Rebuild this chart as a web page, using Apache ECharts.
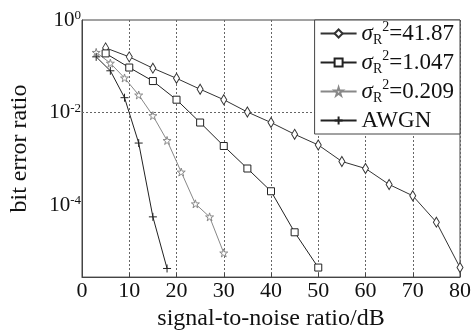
<!DOCTYPE html>
<html>
<head>
<meta charset="utf-8">
<script src="https://cdn.jsdelivr.net/npm/echarts@6/dist/echarts.min.js"></script>
<style>
  html, body { margin: 0; padding: 0; background: #fff; }
  #main { width: 475px; height: 336px; }
</style>
</head>
<body>
<div id="main"></div>
<script>
// data
var snrA = [5, 10, 15, 20, 25, 30, 35, 40, 45, 50, 55, 60, 65, 70, 75, 80];
var berA = [0.25, 0.16, 0.091, 0.055, 0.032, 0.019, 0.0103, 0.0061, 0.0034, 0.0020,
            0.00088, 0.00062, 0.00028, 0.00016, 0.000043, 0.0000045];

var snrB = [5, 10, 15, 20, 25, 30, 35, 40, 45, 50];
var berB = [0.19, 0.094, 0.048, 0.019, 0.0061, 0.0019, 0.00062, 0.00020, 0.000026, 0.0000045];

var snrC = [3, 6, 9, 12, 15, 18, 21, 24, 27, 30];
var berC = [0.20, 0.117, 0.056, 0.024, 0.0086, 0.0025, 0.00052, 0.000107, 0.000056, 0.0000093];

var snrD = [3, 6, 9, 12, 15, 18];
var berD = [0.16, 0.080, 0.021, 0.0022, 0.000056, 0.0000043];

var seriesNames = ['41.87', '1.047', '0.209', 'AWGN'];
var xTicks = [0, 80, 10];          // min, max, step
var yRange = [2.8e-6, 1];
var gridLinesY = [1e-2, 1e-4];

var serif = "'Liberation Serif', 'Times New Roman', serif";

function pairs(xs, ys) {
    return xs.map(function (x, i) { return [x, ys[i]]; });
}

var chartDom = document.getElementById('main');
var myChart = echarts.init(chartDom);

var starPath = 'path://M50,0L61,35L98,35L68,57L79,91L50,70L21,91L32,57L2,35L39,35Z';
var plusPath = 'path://M5,0L5,10M0,5L10,5';

function lineSeries(name, data, color, symbol, size) {
    return {
        name: name,
        type: 'line',
        data: data,
        symbol: symbol,
        symbolSize: size,
        showSymbol: true,
        lineStyle: { color: color, width: 1 },
        itemStyle: { color: '#fff', borderColor: color, borderWidth: 1 },
        z: 3
    };
}

var series = [
    lineSeries(seriesNames[0], pairs(snrA, berA), '#333', 'diamond', [6, 10]),
    lineSeries(seriesNames[1], pairs(snrB, berB), '#222', 'rect', 7),
    lineSeries(seriesNames[2], pairs(snrC, berC), '#888', starPath, 8),
    lineSeries(seriesNames[3], pairs(snrD, berD), '#222', plusPath, 8)
];

// horizontal dotted grid lines only at 1e-2 and 1e-4
series[0].markLine = {
    silent: true,
    symbol: 'none',
    label: { show: false },
    lineStyle: { color: '#666', type: [2, 2], width: 1 },
    data: gridLinesY.map(function (v) { return { yAxis: v }; }),
    z: 1
};

var option = {
    animation: false,
    backgroundColor: '#fff',
    grid: {
        left: 81, right: 15, top: 20, bottom: 51,
        show: true, borderColor: '#444', borderWidth: 1
    },
    legend: {
        orient: 'vertical',
        right: 15,
        top: 20,
        padding: [0, 6, 0, 5],
        itemGap: 2,
        itemWidth: 36,
        itemHeight: 10,
        backgroundColor: '#fff',
        borderColor: '#444',
        borderWidth: 1,
        borderRadius: 0,
        data: seriesNames,
        formatter: function (name) {
            if (name === 'AWGN') return '{n|AWGN}';
            return '{s|σ}{r|R}{p|2}{n|=' + name + '}';
        },
        textStyle: {
            fontFamily: serif,
            fontSize: 23,
            color: '#111',
            lineHeight: 27,
            rich: {
                s: { fontFamily: serif, fontSize: 23, fontStyle: 'italic', lineHeight: 27, color: '#111' },
                r: { fontFamily: serif, fontSize: 14, lineHeight: 27, verticalAlign: 'bottom', color: '#111' },
                p: { fontFamily: serif, fontSize: 14, lineHeight: 27, verticalAlign: 'top', color: '#111' },
                n: { fontFamily: serif, fontSize: 23, lineHeight: 27, color: '#111' }
            }
        }
    },
    xAxis: {
        type: 'value',
        min: xTicks[0],
        max: xTicks[1],
        interval: xTicks[2],
        name: 'signal-to-noise ratio/dB',
        nameLocation: 'middle',
        nameGap: 18,
        nameTextStyle: { fontFamily: serif, fontSize: 24, color: '#111' },
        axisLine: { lineStyle: { color: '#444', width: 1 } },
        axisTick: { inside: true, length: 4, lineStyle: { color: '#444' } },
        axisLabel: { fontFamily: serif, fontSize: 22, color: '#111', margin: 3 },
        splitLine: { show: true, lineStyle: { color: '#666', type: [2, 2], width: 1 } }
    },
    yAxis: {
        type: 'log',
        logBase: 10,
        min: yRange[0],
        max: yRange[1],
        name: 'bit error ratio',
        nameLocation: 'middle',
        nameGap: 50,
        nameTextStyle: { fontFamily: serif, fontSize: 24, color: '#111' },
        axisLine: { show: true, lineStyle: { color: '#444', width: 1 } },
        axisTick: { show: false },
        splitLine: { show: false },
        axisLabel: {
            margin: 1,
            formatter: function (value) {
                var lg = Math.log10(value);
                var e = Math.round(lg);
                if (Math.abs(lg - e) > 1e-6 || e % 2 !== 0) return '';
                return '{b|10}{s|' + (e === 0 ? '0' : '-' + (-e)) + '}';
            },
            rich: {
                b: { fontFamily: serif, fontSize: 21, lineHeight: 22, color: '#111' },
                s: { fontFamily: serif, fontSize: 13, lineHeight: 22, verticalAlign: 'top', color: '#111' }
            }
        }
    },
    series: series
};

option && myChart.setOption(option);
</script>
</body>
</html>
